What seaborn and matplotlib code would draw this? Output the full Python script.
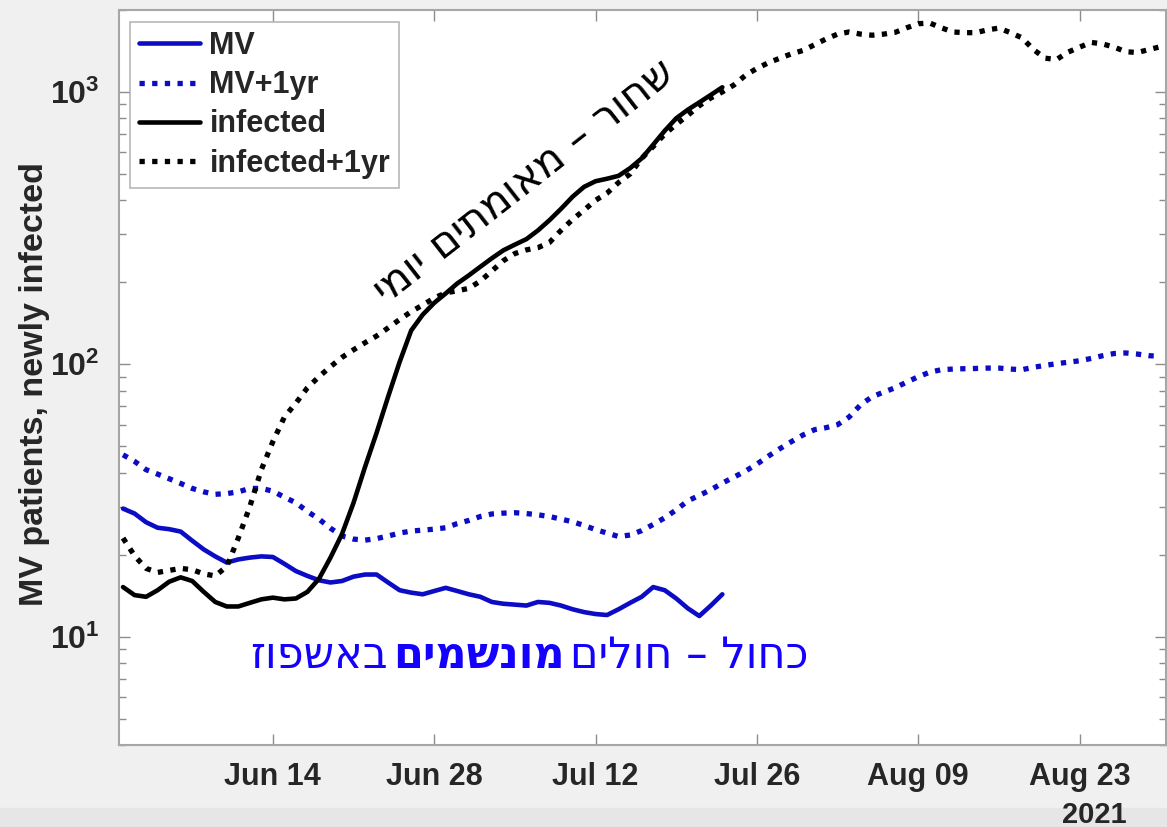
import numpy as np
import pandas as pd
import matplotlib
matplotlib.use("Agg")
import matplotlib.pyplot as plt
import matplotlib.dates as mdates
from matplotlib.patches import Rectangle
from matplotlib.ticker import LogLocator, NullFormatter, FuncFormatter
import seaborn as sns

# values, one per day from Jun 1 2021
start = pd.Timestamp("2021-06-01")

mv_patients = [29.5, 28.3, 26.3, 25.1, 24.8, 24.3, 22.5, 20.9, 19.7, 18.7,
               19.2, 19.5, 19.7, 19.6, 18.5, 17.4, 16.7, 16.1, 15.8, 16.0,
               16.6, 16.9, 16.9, 15.8, 14.8, 14.5, 14.3, 14.7, 15.1, 14.7,
               14.3, 14.0, 13.4, 13.2, 13.1, 13.0, 13.4, 13.3, 13.0, 12.6,
               12.3, 12.1, 12.0, 12.6, 13.3, 14.0, 15.2, 14.8, 13.8, 12.7,
               11.9, 13.0, 14.3]

mv_1yr = [46.5, 44, 41, 39.5, 38, 36.5, 35, 34, 33.3, 33.5,
          34, 35, 35, 34.2, 32.5, 31, 28.8, 27, 25, 23.4,
          22.8, 22.6, 22.9, 23.4, 24, 24.4, 24.6, 24.8, 25.1, 26,
          26.7, 27.6, 28.2, 28.4, 28.5, 28.3, 28.0, 27.6, 27.0, 26.4,
          25.6, 24.7, 24.0, 23.3, 23.6, 24.5, 25.8, 27.3, 29.2, 31.5,
          33.0, 34.6, 36.6, 38.5, 40.5, 43, 46, 49, 52, 55,
          57.5, 58.5, 60, 64, 71, 76, 79, 82, 86, 90,
          93.5, 95.5, 96, 96.3, 96.5, 96.8, 96.8, 96, 95.5, 97.5,
          99, 100.5, 101.7, 103, 105, 107.5, 109.5, 110, 109, 107.5,
          107]

infected = [15.2, 14.2, 14.0, 14.8, 15.9, 16.5, 16.0, 14.6, 13.4, 12.9,
            12.9, 13.3, 13.7, 13.9, 13.7, 13.8, 14.6, 16.3, 19.5, 23.8,
            31, 42, 56, 76, 102, 133, 152, 168, 182, 198,
            212, 228, 245, 262, 275, 288, 310, 338, 372, 412,
            448, 470, 480, 492, 525, 570, 640, 720, 800, 860,
            915, 975, 1040]

infected_1yr = [23, 19.8, 17.8, 17.2, 17.5, 17.8, 17.6, 17.0, 16.7, 18.1,
                23, 30, 41, 52, 64, 72, 82, 90, 98, 106,
                113, 120, 127, 136, 146, 156, 165, 175, 183, 186,
                190, 202, 220, 240, 255, 263, 268, 280, 310, 340,
                368, 400, 425, 465, 500, 570, 630, 700, 760, 820,
                890, 950, 1000, 1060, 1150, 1220, 1280, 1330, 1380, 1420,
                1490, 1565, 1630, 1660, 1630, 1615, 1630, 1655, 1720, 1780,
                1790, 1720, 1660, 1650, 1650, 1690, 1715, 1650, 1580, 1430,
                1330, 1315, 1400, 1460, 1520, 1500, 1460, 1405, 1395, 1430,
                1465]

tick_dates = pd.to_datetime(["2021-06-14", "2021-06-28", "2021-07-12",
                             "2021-07-26", "2021-08-09", "2021-08-23"])
tick_labels = ["Jun 14", "Jun 28", "Jul 12", "Jul 26", "Aug 09", "Aug 23"]
legend_labels = ["MV", "MV+1yr", "infected", "infected+1yr"]

black_note = "שחור – מאומתים יומי"
blue_note = ["כחול – חולים", "מונשמים", "באשפוז"]  # middle word bold

blue = "#0c0cc4"
hebrew_fonts = ["DejaVu Sans"]

sns.set_theme(style="ticks")
plt.rcParams["font.family"] = ["Liberation Sans", "DejaVu Sans"]
plt.rcParams["font.weight"] = "bold"
plt.rcParams["mathtext.fontset"] = "custom"
plt.rcParams["mathtext.rm"] = "Liberation Sans:bold"
plt.rcParams["mathtext.it"] = "Liberation Sans:bold"
plt.rcParams["mathtext.bf"] = "Liberation Sans:bold"

fig = plt.figure(figsize=(11.67, 8.27), dpi=100, facecolor="#f0f0f0")
fig.patches.append(Rectangle((0, 0), 1, 19 / 827, transform=fig.transFigure,
                             color="#e6e6e6", zorder=0))
ax = fig.add_axes([0.102, 0.0992, 0.8972, 0.8888])
ax.set_facecolor("white")

d_short = pd.date_range(start, periods=len(mv_patients), freq="D")
d_long = pd.date_range(start, periods=len(mv_1yr), freq="D")
dots = (0, (1, 1.4))

sns.lineplot(x=d_short, y=mv_patients, ax=ax, color=blue, lw=3.3, label=legend_labels[0])
sns.lineplot(x=d_long, y=mv_1yr, ax=ax, color=blue, lw=3.8, linestyle=dots,
             label=legend_labels[1])
sns.lineplot(x=pd.date_range(start, periods=len(infected), freq="D"), y=infected,
             ax=ax, color="black", lw=3.3, label=legend_labels[2])
sns.lineplot(x=pd.date_range(start, periods=len(infected_1yr), freq="D"), y=infected_1yr,
             ax=ax, color="black", lw=3.8, linestyle=dots, label=legend_labels[3])

ax.set_yscale("log")
ax.set_ylim(4, 2000)
ax.set_xlim(pd.Timestamp("2021-05-31 15:40"), pd.Timestamp("2021-08-30 12:00"))

ax.set_xticks(tick_dates, labels=tick_labels)
ax.yaxis.set_major_locator(LogLocator(base=10, numticks=10))
ax.yaxis.set_major_formatter(FuncFormatter(lambda v, p: r"$10^{%d}$" % round(np.log10(v))))
ax.yaxis.set_minor_locator(LogLocator(base=10, subs=np.arange(2, 10), numticks=20))
ax.yaxis.set_minor_formatter(NullFormatter())

ax.tick_params(which="both", direction="in", top=True, right=True,
               color="#8c8c8c", labelcolor="#262626", width=1)
ax.tick_params(which="major", length=8)
ax.tick_params(which="minor", length=5)
ax.tick_params(axis="x", labelsize=22, pad=12)
ax.tick_params(axis="y", labelsize=23, pad=14)
for s in ax.spines.values():
    s.set_color("#a6a6a6")
    s.set_linewidth(1.5)

ax.set_xlabel("")
ax.set_ylabel("MV patients, newly infected", fontsize=24.5, fontweight="bold",
              color="#262626")
ax.yaxis.set_label_coords(-0.066, 0.491)

leg = ax.legend(loc="upper left", bbox_to_anchor=(0.0105, 0.9837), borderaxespad=0,
                prop={"size": 22, "weight": "bold"}, frameon=True, fancybox=False,
                handlelength=2.0, handletextpad=0.3, labelspacing=0.3, borderpad=0.3)
leg.get_frame().set_edgecolor("#a6a6a6")
leg.get_frame().set_linewidth(1.2)

fig.text(1127 / 1167, 12 / 827, "2021", ha="right", va="center", fontsize=21,
         fontweight="bold", color="#262626")

# Hebrew notes: matplotlib has no bidi, so the strings are reversed for display
ax.text(0.387, 0.767, black_note[::-1], transform=ax.transAxes, rotation=38,
        rotation_mode="anchor", ha="center", va="center", fontsize=30,
        color="black", family=hebrew_fonts, fontweight="normal")

renderer = fig.canvas.get_renderer()
x = 0.658
for txt, wt in zip(blue_note, ["normal", "bold", "normal"]):
    t = ax.text(x, 0.105, txt[::-1], transform=ax.transAxes, ha="right",
                va="baseline", fontsize=31, color="#1400ff", family=hebrew_fonts,
                fontweight=wt)
    bb = t.get_window_extent(renderer).transformed(ax.transAxes.inverted())
    x = bb.x0 - 0.005

fig.savefig("out.png", dpi=100, facecolor=fig.get_facecolor())
